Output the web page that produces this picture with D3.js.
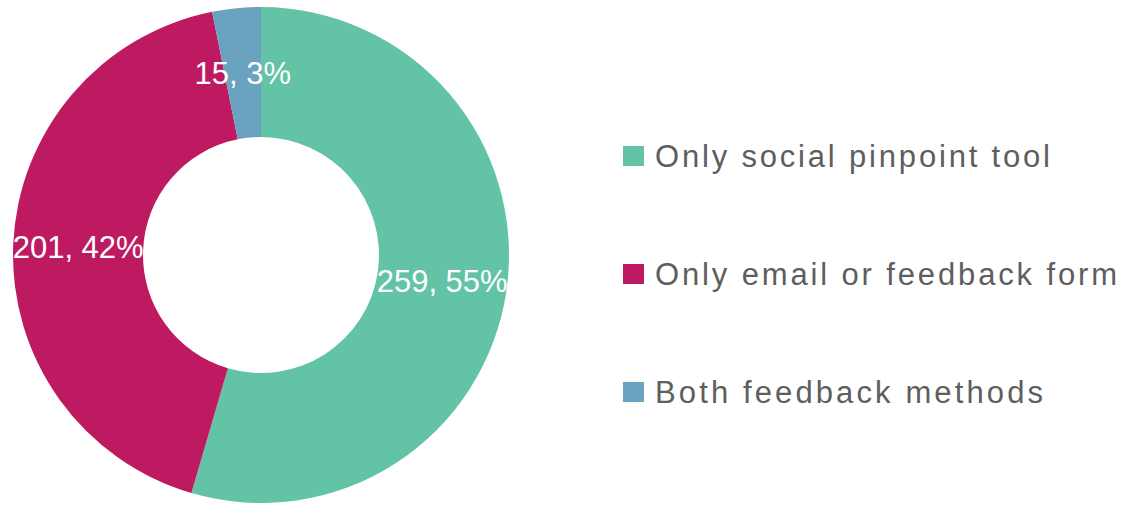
<!DOCTYPE html>
<html>
<head>
<meta charset="utf-8">
<script src="https://cdn.jsdelivr.net/npm/d3@7"></script>
<style>
  html, body { margin: 0; padding: 0; background: #fff; }
  svg { display: block; }
  text { font-family: "Liberation Sans", Arial, sans-serif; }
</style>
</head>
<body>
<svg id="chart" width="1129" height="507"></svg>
<script>
// Feedback channel breakdown
const categories = ["Only social pinpoint tool", "Only email or feedback form", "Both feedback methods"];
const counts = [259, 201, 15];
const percents = [55, 42, 3];
const colors = ["#63C3A6", "#BE1A62", "#6AA3BF"];

const svg = d3.select("#chart");
const width = 1129, height = 507;

const cx = 261, cy = 255;
const outerR = 248, innerR = 118;

const data = categories.map((c, i) => ({ name: c, value: counts[i], pct: percents[i], color: colors[i] }));

const pie = d3.pie().value(d => d.value).sort(null);
const arc = d3.arc().innerRadius(innerR).outerRadius(outerR);

const g = svg.append("g").attr("transform", `translate(${cx},${cy})`);
const arcs = pie(data);

g.selectAll("path.slice")
  .data(arcs)
  .join("path")
  .attr("class", "slice")
  .attr("d", arc)
  .attr("fill", d => d.data.color);

g.selectAll("text.lbl")
  .data(arcs)
  .join("text")
  .attr("class", "lbl")
  .attr("transform", d => `translate(${arc.centroid(d)})`)
  .attr("text-anchor", "middle")
  .attr("dy", "0.36em")
  .attr("fill", "#ffffff")
  .style("font-size", "31px")
  .text(d => `${d.data.value}, ${d.data.pct}%`);

// Legend
const legendY = d3.scalePoint().domain(categories).range([156, 392]);
const textWidths = [395, 462, 388];

const legend = svg.append("g");
const items = legend.selectAll("g.item")
  .data(data)
  .join("g")
  .attr("class", "item")
  .attr("transform", d => `translate(623,${legendY(d.name)})`);

items.append("rect")
  .attr("x", 0)
  .attr("y", -10)
  .attr("width", 21)
  .attr("height", 20)
  .attr("fill", d => d.color);

items.append("text")
  .attr("x", 32)
  .attr("y", 11)
  .attr("fill", "#5e5e5e")
  .style("font-size", "31px")
  .attr("textLength", (d, i) => textWidths[i])
  .attr("lengthAdjust", "spacing")
  .text(d => d.name);
</script>
</body>
</html>
